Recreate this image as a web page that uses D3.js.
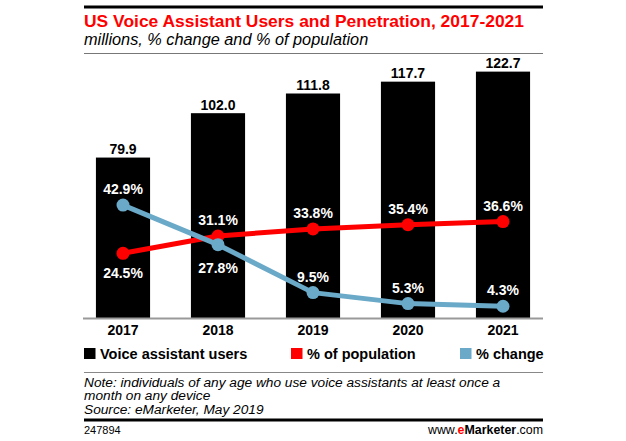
<!DOCTYPE html>
<html>
<head>
<meta charset="utf-8">
<script src="https://cdn.jsdelivr.net/npm/d3@7"></script>
<style>
  html, body { margin: 0; padding: 0; background: #fff; }
  svg { display: block; font-family: "Liberation Sans", Arial, sans-serif; }
</style>
</head>
<body>
<svg id="chart" width="626" height="441"></svg>
<script>
const years = ["2017", "2018", "2019", "2020", "2021"];
const users = [79.9, 102.0, 111.8, 117.7, 122.7];
const pctPopulation = [24.5, 31.1, 33.8, 35.4, 36.6];
const pctChange = [42.9, 27.8, 9.5, 5.3, 4.3];
const popLabelSide = ["below", "above", "above", "above", "above"];
const changeLabelSide = ["above", "below", "above", "above", "above"];
const legendLabels = ["Voice assistant users", "% of population", "% change"];

const svg = d3.select("#chart");
const left = 84, right = 543;
const baseY = 318;
const RED = "#ff0000", BLUE = "#6aa9c8";

// header
svg.append("rect").attr("x", left).attr("y", 5.5).attr("width", right - left).attr("height", 3).attr("fill", "#000");
svg.append("text").attr("x", left).attr("y", 27).attr("fill", RED)
  .attr("font-weight", "bold").attr("font-size", 17)
  .attr("textLength", 440).attr("lengthAdjust", "spacingAndGlyphs")
  .text("US Voice Assistant Users and Penetration, 2017-2021");
svg.append("text").attr("x", left).attr("y", 45).attr("fill", "#000")
  .attr("font-style", "italic").attr("font-size", 16.3)
  .text("millions, % change and % of population");
svg.append("rect").attr("x", left).attr("y", 53).attr("width", right - left).attr("height", 1).attr("fill", "#777");

// scales
const x = d3.scaleBand().domain(years).range([75.5, 550.5]).paddingInner(0.43).paddingOuter(0.215);
const y = d3.scaleLinear().domain([0, 125]).range([baseY, 67]);
const yp = d3.scaleLinear().domain([0, 100]).range([317.5, 55.5]);
const cx = d => x(d) + x.bandwidth() / 2;

// bars
svg.append("g").selectAll("rect").data(years).join("rect")
  .attr("x", d => x(d)).attr("width", x.bandwidth())
  .attr("y", (d, i) => y(users[i])).attr("height", (d, i) => baseY - y(users[i]))
  .attr("fill", "#000");
svg.append("g").selectAll("text").data(years).join("text")
  .attr("x", cx).attr("y", (d, i) => y(users[i]) - 3.5)
  .attr("text-anchor", "middle").attr("font-weight", "bold").attr("font-size", 14)
  .text((d, i) => users[i].toFixed(1));

// axis
const axis = svg.append("g").attr("transform", `translate(0,${baseY})`)
  .call(d3.axisBottom(x).tickSize(0).tickPadding(0));
axis.select(".domain").remove();
axis.selectAll("text").attr("dy", null).attr("y", 17).attr("font-size", 14).attr("font-weight", "bold")
  .attr("fill", "#000").attr("font-family", "Liberation Sans, Arial, sans-serif");
svg.append("line").attr("x1", 83).attr("x2", right).attr("y1", baseY + 0.5).attr("y2", baseY + 0.5)
  .attr("stroke", "#999").attr("stroke-width", 2);

// lines
function drawSeries(vals, color, sides, belowOff) {
  const line = d3.line().x((d, i) => cx(years[i])).y(d => yp(d));
  svg.append("path").datum(vals).attr("d", line).attr("fill", "none")
    .attr("stroke", color).attr("stroke-width", 5).attr("stroke-linejoin", "round");
  svg.append("g").selectAll("circle").data(vals).join("circle")
    .attr("cx", (d, i) => cx(years[i])).attr("cy", d => yp(d)).attr("r", 6.5).attr("fill", color);
  svg.append("g").selectAll("text").data(vals).join("text")
    .attr("x", (d, i) => cx(years[i]))
    .attr("y", (d, i) => yp(d) + (sides[i] === "above" ? -11 : belowOff))
    .attr("text-anchor", "middle").attr("font-weight", "bold").attr("font-size", 14)
    .attr("fill", "#fff").text(d => d.toFixed(1) + "%");
}
drawSeries(pctPopulation, RED, popLabelSide, 24.5);
drawSeries(pctChange, BLUE, changeLabelSide, 28.5);

// legend
const legendX = [84, 291, 460];
const legendColors = ["#000", RED, BLUE];
const lg = svg.append("g").selectAll("g").data(legendLabels).join("g")
  .attr("transform", (d, i) => `translate(${legendX[i]},348)`);
lg.append("rect").attr("width", 11.5).attr("height", 11).attr("fill", (d, i) => legendColors[i]);
lg.append("text").attr("x", 16).attr("y", 10.5).attr("font-weight", "bold").attr("font-size", 14.5)
  .attr("fill", "#000").text(d => d);

// notes
svg.append("rect").attr("x", left).attr("y", 372).attr("width", right - left).attr("height", 1).attr("fill", "#888");
const notes = ["Note: individuals of any age who use voice assistants at least once a", "month on any device", "Source: eMarketer, May 2019"];
svg.append("g").selectAll("text").data(notes).join("text")
  .attr("x", left).attr("y", (d, i) => 386.5 + i * 13.5)
  .attr("font-style", "italic").attr("font-size", 13.7).attr("fill", "#000").text(d => d);
svg.append("rect").attr("x", left).attr("y", 418.5).attr("width", right - left).attr("height", 3).attr("fill", "#000");
svg.append("text").attr("x", left).attr("y", 434).attr("font-size", 11).attr("fill", "#000").text("247894");
const site = svg.append("text").attr("x", right).attr("y", 434).attr("text-anchor", "end").attr("font-size", 12.4).attr("fill", "#000");
site.append("tspan").text("www.");
site.append("tspan").attr("fill", RED).attr("font-weight", "bold").text("e");
site.append("tspan").attr("font-weight", "bold").text("Marketer");
site.append("tspan").text(".com");
</script>
</body>
</html>
